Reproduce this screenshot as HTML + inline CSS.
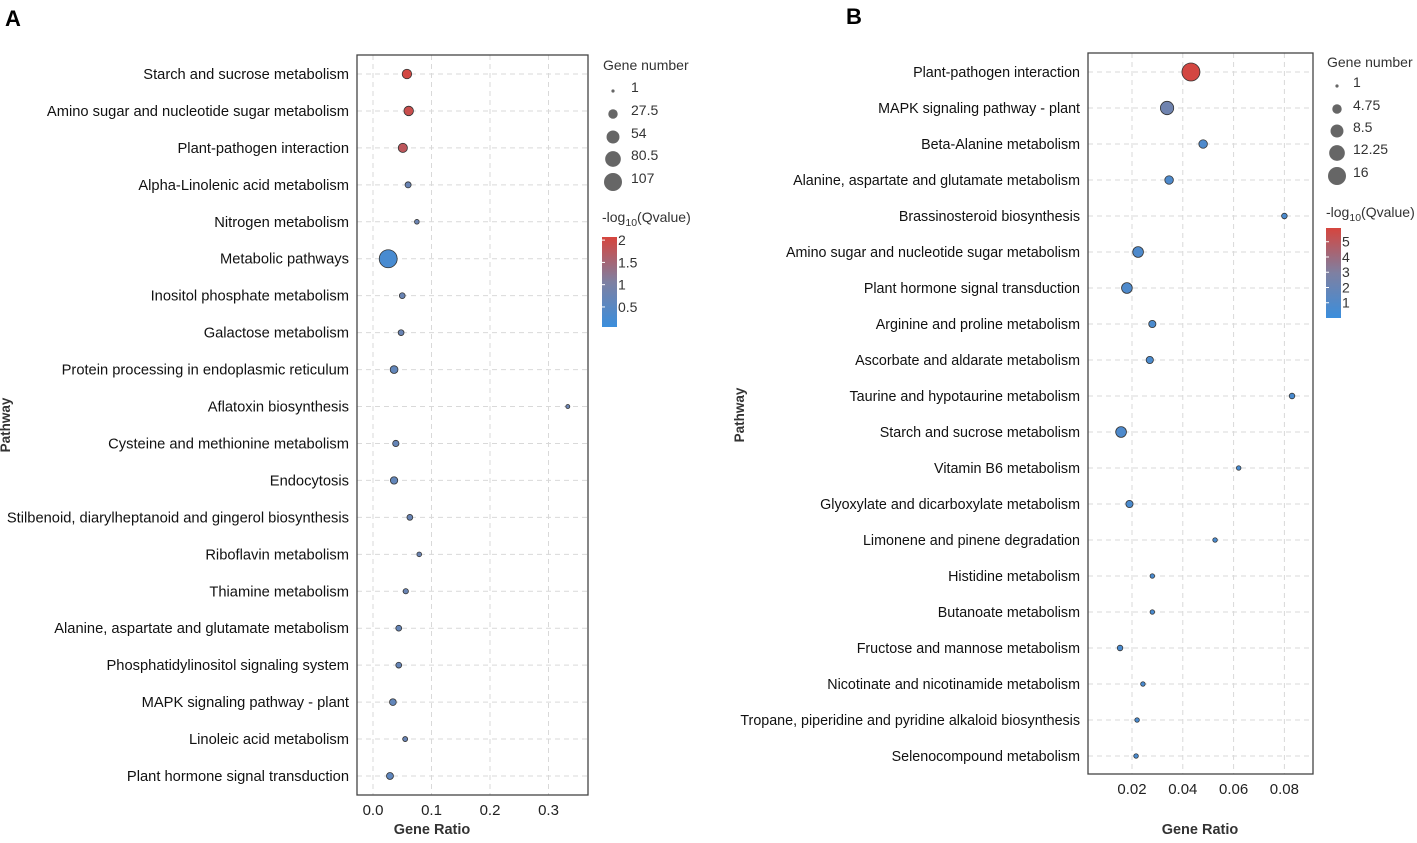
<!DOCTYPE html>
<html><head><meta charset="utf-8"><style>
body{margin:0;background:#fff;}
svg text{font-family:"Liberation Sans",Arial,sans-serif;}
</style></head><body>
<svg id="s" width="1417" height="838" xmlns="http://www.w3.org/2000/svg">
<defs>
<linearGradient id="gA" x1="0" y1="1" x2="0" y2="0"><stop offset="0" stop-color="#3B8EDC"/><stop offset="0.5" stop-color="#7E80A2"/><stop offset="1" stop-color="#D6453E"/></linearGradient>
</defs>
<text x="5" y="26" font-size="22" font-weight="bold">A</text>
<text x="846" y="24" font-size="22" font-weight="bold">B</text>
</svg>
<script>
const aPaths=["Starch and sucrose metabolism","Amino sugar and nucleotide sugar metabolism","Plant-pathogen interaction","Alpha-Linolenic acid metabolism","Nitrogen metabolism","Metabolic pathways","Inositol phosphate metabolism","Galactose metabolism","Protein processing in endoplasmic reticulum","Aflatoxin biosynthesis","Cysteine and methionine metabolism","Endocytosis","Stilbenoid, diarylheptanoid and gingerol biosynthesis","Riboflavin metabolism","Thiamine metabolism","Alanine, aspartate and glutamate metabolism","Phosphatidylinositol signaling system","MAPK signaling pathway - plant","Linoleic acid metabolism","Plant hormone signal transduction"];
const aRatio=[0.058,0.061,0.051,0.060,0.075,0.026,0.050,0.048,0.036,0.333,0.039,0.036,0.063,0.079,0.056,0.044,0.044,0.034,0.055,0.029];
const aCount=[28,28,26,10,5,107,9,9,18,3,11,16,9,5,7,9,9,13,6,14];
const aQ=[2.0,1.9,1.75,0.7,0.75,0.2,0.7,0.7,0.6,0.75,0.65,0.6,0.7,0.75,0.7,0.65,0.65,0.6,0.7,0.55];
const aXTicks=[0,0.1,0.2,0.3];
const aSizeLeg=[1,27.5,54,80.5,107];
const aColLeg=[0.5,1,1.5,2];

const bPaths=["Plant-pathogen interaction","MAPK signaling pathway - plant","Beta-Alanine metabolism","Alanine, aspartate and glutamate metabolism","Brassinosteroid biosynthesis","Amino sugar and nucleotide sugar metabolism","Plant hormone signal transduction","Arginine and proline metabolism","Ascorbate and aldarate metabolism","Taurine and hypotaurine metabolism","Starch and sucrose metabolism","Vitamin B6 metabolism","Glyoxylate and dicarboxylate metabolism","Limonene and pinene degradation","Histidine metabolism","Butanoate metabolism","Fructose and mannose metabolism","Nicotinate and nicotinamide metabolism","Tropane, piperidine and pyridine alkaloid biosynthesis","Selenocompound metabolism"];
const bRatio=[0.0432,0.0338,0.048,0.0346,0.080,0.0224,0.018,0.028,0.027,0.083,0.0157,0.062,0.019,0.0527,0.028,0.028,0.0153,0.0243,0.022,0.0216];
const bCount=[16,9,4,4,2,6,6,3,3,2,6,1.5,3,1.5,1.5,1.5,2,1.5,1.5,1.5];
const bQ=[5.6,2.2,0.8,0.8,0.7,0.8,0.8,0.7,0.7,0.6,0.8,0.6,0.7,0.6,0.6,0.6,0.6,0.6,0.6,0.6];
const bXTicks=[0.02,0.04,0.06,0.08];
const bSizeLeg=[1,4.75,8.5,12.25,16];
const bColLeg=[1,2,3,4,5];

const S=document.getElementById('s');
const NS='http://www.w3.org/2000/svg';
function mk(tag,at,txt){const e=document.createElementNS(NS,tag);for(const k in at)e.setAttribute(k,at[k]);if(txt!=null)e.textContent=txt;S.appendChild(e);return e;}
function lerp(a,b,t){return a.map((v,i)=>Math.round(v+(b[i]-v)*t));}
function col(q,qmax){let t=Math.max(0,Math.min(1,q/qmax));const lo=[59,142,220],mid=[126,128,162],hi=[214,69,62];const c=t<0.5?lerp(lo,mid,t*2):lerp(mid,hi,(t-0.5)*2);return 'rgb('+c.join(',')+')';}

function panel(P){
  const {paths,ratio,count,q,ticks,x0,x1,y0,y1,vx0,vx1,r0,r1,cmin,cmax,qmax,rowTop,rowBot,labX,tickFmt,pre,fs}=P;
  const X=v=>x0+(v-vx0)/(vx1-vx0)*(x1-x0);
  const n=paths.length;const Y=i=>rowTop+i*(rowBot-rowTop)/(n-1);
  const R=c=>Math.sqrt(r0*r0+(r1*r1-r0*r0)*(c-cmin)/(cmax-cmin));
  let g;
  ticks.forEach((t,i)=>{g=mk('line',{x1:X(t),x2:X(t),y1:y0,y2:y1,stroke:'#d9d9d9','stroke-dasharray':'5,4','stroke-width':1});
    
    g=mk('text',{x:X(t),y:y1+20,'font-size':15,'text-anchor':'middle',fill:'#222'},tickFmt(t));
    });
  paths.forEach((p,i)=>{g=mk('line',{x1:x0,x2:x1,y1:Y(i),y2:Y(i),stroke:'#d9d9d9','stroke-dasharray':'5,4','stroke-width':1});
    
    g=mk('text',{x:labX,y:Y(i)+5,'font-size':fs,'text-anchor':'end',fill:'#111'},p);
    });
  g=mk('rect',{x:x0,y:y0,width:x1-x0,height:y1-y0,fill:'none',stroke:'#444','stroke-width':1.3});
  
  paths.forEach((p,i)=>{g=mk('circle',{cx:X(ratio[i]),cy:Y(i),r:R(count[i]),fill:col(q[i],qmax),stroke:'#333','stroke-width':0.8});
    });
  return {X,Y,R};
}
function legend(P,s){
  const {lx,ly,sizes,cols,qmax,cbTop,cbBot,cbQTop,cbQBot,pre,labDx}=P;
  let g=mk('text',{x:lx,y:ly,'font-size':14,fill:'#333'},'Gene number');
  
  sizes.forEach((v,i)=>{const yy=P.sy[i];
    g=mk('circle',{cx:lx+P.cdx,cy:yy,r:s.R(v),fill:'#666'});
    g=mk('text',{x:lx+labDx,y:yy+1,'font-size':14,fill:'#333'},String(v));});
  g=mk('text',{x:lx-1,y:P.ty,'font-size':14,fill:'#333'});
  g.innerHTML='-log<tspan dy="4" font-size="10.5">10</tspan><tspan dy="-4">(Qvalue)</tspan>';
  
  g=mk('rect',{x:lx-1,y:cbTop,width:15,height:cbBot-cbTop,fill:'url(#gA)'});
  
  const CY=v=>cbBot-(v-cbQBot)/(cbQTop-cbQBot)*(cbBot-cbTop);
  cols.forEach(v=>{g=mk('text',{x:lx+15,y:CY(v)+5,'font-size':14,fill:'#333'},String(v));
    
    g=mk('line',{x1:lx-1,x2:lx+2,y1:CY(v),y2:CY(v),stroke:'#fff'});});
}
const A=panel({paths:aPaths,ratio:aRatio,count:aCount,q:aQ,ticks:aXTicks,x0:357,x1:588,y0:55,y1:795,vx0:-(373-357)/585,vx1:(588-373)/585,r0:1.6,r1:9,cmin:1,cmax:107,qmax:2.05,rowTop:74,rowBot:776,labX:349,tickFmt:t=>t.toFixed(1),pre:'a-',fs:14.7});
legend({lx:603,ly:70,sizes:aSizeLeg,sy:[91,114,137,159,182],cdx:10,labDx:28,cols:aColLeg,qmax:2.05,ty:222,cbTop:237,cbBot:327,cbQTop:2.07,cbQBot:0.05,pre:'a-'},A);
const B=panel({paths:bPaths,ratio:bRatio,count:bCount,q:bQ,ticks:bXTicks,x0:1088,x1:1313,y0:53,y1:774,vx0:0.02-(1132-1088)/2540,vx1:0.02+(1313-1132)/2540,r0:1.6,r1:9,cmin:1,cmax:16,qmax:5.7,rowTop:72,rowBot:756,labX:1080,tickFmt:t=>t.toFixed(2),pre:'b-',fs:14.3});
legend({lx:1327,ly:67,sizes:bSizeLeg,sy:[86,109,131,153,176],cdx:10,labDx:26,cols:bColLeg,qmax:5.7,ty:217,cbTop:228,cbBot:318,cbQTop:5.9,cbQBot:0,pre:'b-'},B);
let g;
g=mk('text',{x:432,y:834,'font-size':14.5,'font-weight':'bold','text-anchor':'middle',fill:'#333'},'Gene Ratio');
g=mk('text',{x:1200,y:834,'font-size':14.5,'font-weight':'bold','text-anchor':'middle',fill:'#333'},'Gene Ratio');
g=mk('text',{x:0,y:0,'font-size':13.5,'font-weight':'bold','text-anchor':'middle',fill:'#333',transform:'translate(10,425) rotate(-90)'},'Pathway');
g=mk('text',{x:0,y:0,'font-size':13.5,'font-weight':'bold','text-anchor':'middle',fill:'#333',transform:'translate(744,415) rotate(-90)'},'Pathway');
</script>
</body></html>
